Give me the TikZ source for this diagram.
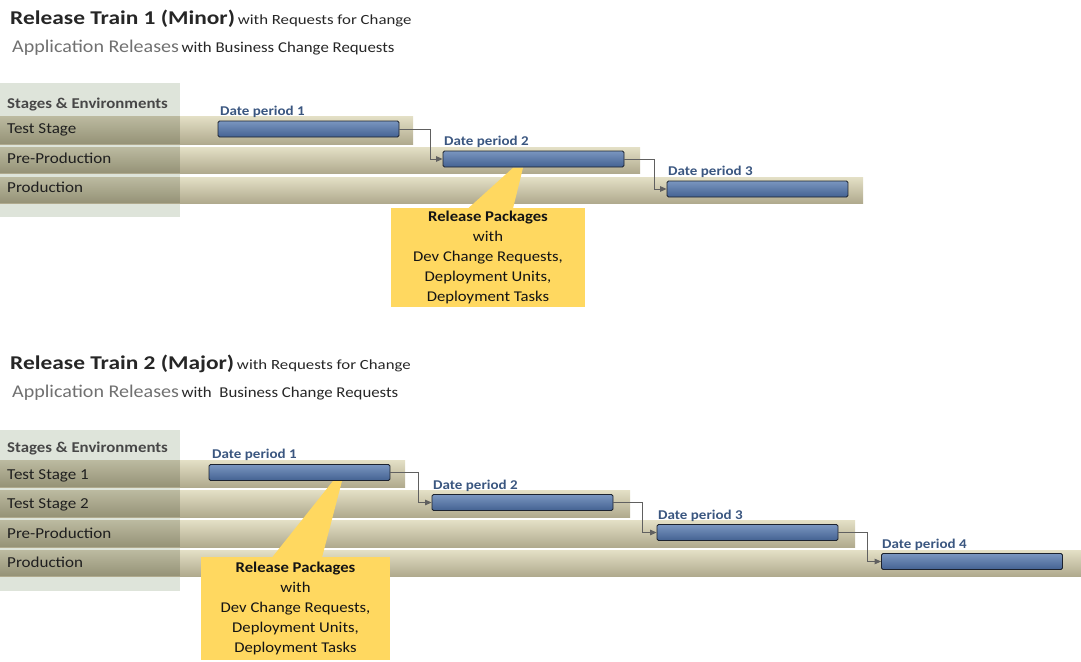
\documentclass[tikz,border=0pt]{standalone}
\usepackage{fontspec}
\setmainfont{Carlito}
\usetikzlibrary{arrows.meta,calc}
\definecolor{panel}{RGB}{222,228,218}
\definecolor{bandtop}{RGB}{228,224,198}
\definecolor{bandbot}{RGB}{176,170,142}
\definecolor{bartop}{RGB}{122,150,192}
\definecolor{barbot}{RGB}{68,98,146}
\definecolor{barline}{RGB}{28,34,46}
\definecolor{dlab}{RGB}{58,86,128}
\definecolor{callc}{RGB}{255,216,96}
\definecolor{conncol}{RGB}{96,96,96}
\definecolor{titlec}{RGB}{38,38,38}
\definecolor{subc}{RGB}{112,112,112}
\tikzset{
  band/.style={top color=bandtop,bottom color=bandbot,draw=none},
  shade/.style={fill={rgb,255:red,70;green,76;blue,50},fill opacity=0.25,draw=none},
  bar/.style={draw=barline,line width=0.8pt,rounded corners=1.5pt,top color=bartop,bottom color=barbot,minimum width=181pt,minimum height=16pt,inner sep=0pt},
  wide/.style={xscale=1.12},
  dlabel/.style={wide,anchor=base west,inner sep=0pt,text=dlab,font=\fontsize{13.4}{15}\selectfont\bfseries},
  stage/.style={wide,anchor=base west,inner sep=0pt,text=black!88,font=\fontsize{15.2}{18}\selectfont},
  stagehead/.style={wide,anchor=base west,inner sep=0pt,text=black!72,font=\fontsize{15}{18}\selectfont\bfseries},
  conn/.style={draw=conncol,line width=0.9pt,-{Triangle[length=6.5pt,width=5.5pt]}},
  callbox/.style={fill=callc,draw=none,inner sep=0pt},
  calltext/.style={wide,align=center,inner sep=0pt,text=black!92,font=\fontsize{14.9}{20}\selectfont},
  title/.style={xscale=1.2,anchor=base west,inner sep=0pt,text=titlec},
  subtitle/.style={wide,anchor=base west,inner sep=0pt,text=titlec},
}
\begin{document}
\begin{tikzpicture}[x=1pt,y=-1pt]
\useasboundingbox (0,0) rectangle (1081,661);
% ================= Section 1 =================
\node[title] (t1) at (10,24.5) {{\fontsize{19.5}{22}\selectfont\bfseries Release Train 1 (Minor)} {\fontsize{14}{17}\selectfont with Requests for Change}};
\node[subtitle] (s1) at (12,52.5) {{\fontsize{17.9}{20}\selectfont\color{subc}Application Releases} {\fontsize{15}{17}\selectfont with Business Change Requests}};
\fill[panel] (0,83) rectangle (180,217);
\fill[band] (0,116) rectangle (413,144);
\fill[band] (0,147) rectangle (640,173);
\fill[band] (0,177) rectangle (863,203);
\fill[shade] (0,116) rectangle (180,144);
\fill[shade] (0,147) rectangle (180,173);
\fill[shade] (0,177) rectangle (180,203);
\node[stagehead] (h1) at (7,108) {Stages \& Environments};
\node[stage] (r11) at (7,133.5) {Test Stage};
\node[stage] (r12) at (7,163) {Pre-Production};
\node[stage] (r13) at (7,192) {Production};
\node[bar] (a1) at (308.5,129) {};
\node[bar] (a2) at (533.5,159) {};
\node[bar] (a3) at (757.5,189) {};
\node[dlabel] (la1) at (220,115.5) {Date period 1};
\node[dlabel] (la2) at (444,145.5) {Date period 2};
\node[dlabel] (la3) at (668,175.5) {Date period 3};
\draw[conn] (a1.east) -- ++(31,0) |- (a2.west);
\draw[conn] (a2.east) -- ++(30,0) |- (a3.west);
\fill[callc] (468,208.5) -- (513,167.8) -- (523,167.8) -- (513,208.5) -- cycle;
\node[callbox,minimum width=194pt,minimum height=99pt] (c1) at (488,257.5) {};
\node[calltext] (ct1) at (c1.center) {\textbf{Release Packages}\\with\\Dev Change Requests,\\Deployment Units,\\Deployment Tasks};
% ================= Section 2 =================
\node[title] (t2) at (10,369) {{\fontsize{19.5}{22}\selectfont\bfseries Release Train 2 (Major)} {\fontsize{14}{17}\selectfont with Requests for Change}};
\node[subtitle] (s2) at (12,397.5) {{\fontsize{17.9}{20}\selectfont\color{subc}Application Releases} {\fontsize{15}{17}\selectfont with \ Business Change Requests}};
\fill[panel] (0,430) rectangle (180,591);
\fill[band] (0,460) rectangle (405,487);
\fill[band] (0,490) rectangle (630,517);
\fill[band] (0,520) rectangle (855,547);
\fill[band] (0,550) rectangle (1081,576);
\fill[shade] (0,460) rectangle (180,487);
\fill[shade] (0,490) rectangle (180,517);
\fill[shade] (0,520) rectangle (180,547);
\fill[shade] (0,550) rectangle (180,576);
\node[stagehead] (h2) at (7,452) {Stages \& Environments};
\node[stage] (r21) at (7,479) {Test Stage 1};
\node[stage] (r22) at (7,508.5) {Test Stage 2};
\node[stage] (r23) at (7,538) {Pre-Production};
\node[stage] (r24) at (7,567) {Production};
\node[bar] (b1) at (299.5,472.5) {};
\node[bar] (b2) at (522.5,502.5) {};
\node[bar] (b3) at (747.5,532.5) {};
\node[bar] (b4) at (972,561.5) {};
\node[dlabel] (lb1) at (212,458.5) {Date period 1};
\node[dlabel] (lb2) at (433,489.5) {Date period 2};
\node[dlabel] (lb3) at (658,519.5) {Date period 3};
\node[dlabel] (lb4) at (882,548.5) {Date period 4};
\draw[conn] (b1.east) -- ++(28,0) |- (b2.west);
\draw[conn] (b2.east) -- ++(29,0) |- (b3.west);
\draw[conn] (b3.east) -- ++(29,0) |- (b4.west);
\fill[callc] (272,557.5) -- (333,481) -- (342,481) -- (322,557.5) -- cycle;
\node[callbox,minimum width=189pt,minimum height=103pt] (c2) at (295.5,608.5) {};
\node[calltext] (ct2) at (c2.center) {\textbf{Release Packages}\\with\\Dev Change Requests,\\Deployment Units,\\Deployment Tasks};
\end{tikzpicture}
\end{document}
